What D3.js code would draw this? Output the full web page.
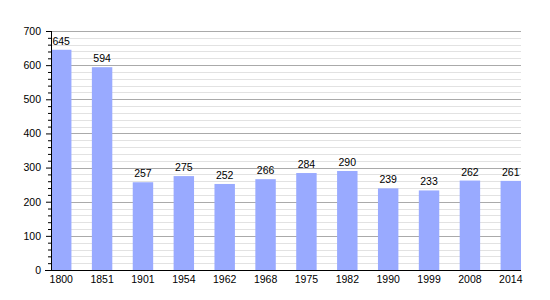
<!DOCTYPE html>
<html>
<head>
<meta charset="utf-8">
<script src="https://cdn.jsdelivr.net/npm/d3@7"></script>
<style>
  body { margin: 0; background: #fff; }
  text { font-family: "Liberation Sans", Arial, sans-serif; font-size: 10.5px; fill: #000; }
</style>
</head>
<body>
<script>
var years = ["1800", "1851", "1901", "1954", "1962", "1968", "1975", "1982", "1990", "1999", "2008", "2014"];
var population = [645, 594, 257, 275, 252, 266, 284, 290, 239, 233, 262, 261];
var yTicks = [0, 100, 200, 300, 400, 500, 600, 700];

var width = 550, height = 300;
var plot = {left: 51, right: 521, top: 31, bottom: 270};

var svg = d3.select("body").append("svg")
  .attr("width", width)
  .attr("height", height);

var x = d3.scaleBand().domain(years).range([plot.left, plot.right]).paddingInner(0.5).paddingOuter(0).align(0);
var y = d3.scaleLinear().domain([0, 700]).range([plot.bottom, plot.top]);

// minor grid every 20
var minor = d3.range(0, 701, 20).filter(function(v) { return v % 100 !== 0; });
svg.append("g").selectAll("line").data(minor).enter().append("line")
  .attr("x1", plot.left).attr("x2", plot.right)
  .attr("y1", function(d) { return Math.round(y(d)) + 0.5; })
  .attr("y2", function(d) { return Math.round(y(d)) + 0.5; })
  .attr("stroke", "#e2e2e2");

// major grid
svg.append("g").selectAll("line").data(yTicks.slice(1)).enter().append("line")
  .attr("x1", plot.left).attr("x2", plot.right)
  .attr("y1", function(d) { return Math.round(y(d)) + 0.5; })
  .attr("y2", function(d) { return Math.round(y(d)) + 0.5; })
  .attr("stroke", "#aaaaaa");

// bars
svg.append("g").selectAll("rect").data(population).enter().append("rect")
  .attr("x", function(d, i) { return x(years[i]); })
  .attr("y", function(d) { return y(d); })
  .attr("width", x.bandwidth())
  .attr("height", function(d) { return y(0) - y(d); })
  .attr("fill", "#99aaff");

// value labels
svg.append("g").selectAll("text").data(population).enter().append("text")
  .attr("x", function(d, i) { return x(years[i]) + x.bandwidth() / 2; })
  .attr("y", function(d) { return y(d) - 5; })
  .attr("text-anchor", "middle")
  .text(function(d) { return d; });

// y axis with minor ticks
var yAxis = d3.axisLeft(y).tickValues(yTicks).tickSize(5).tickPadding(5);
var gy = svg.append("g").attr("transform", "translate(" + plot.left + ",0)").call(yAxis);
gy.select(".domain").remove();
gy.selectAll("text").style("font-size", "10.5px");
svg.append("g").attr("transform", "translate(" + plot.left + ",0)")
  .call(d3.axisLeft(y).tickValues(minor).tickSize(3).tickFormat(""))
  .select(".domain").remove();
svg.append("line")
  .attr("x1", plot.left + 0.5).attr("x2", plot.left + 0.5)
  .attr("y1", plot.top).attr("y2", plot.bottom + 0.5)
  .attr("stroke", "#000");

// x axis
var xAxis = d3.axisBottom(x).tickSize(0).tickPadding(5);
var gx = svg.append("g").attr("transform", "translate(0," + (plot.bottom + 0.5) + ")").call(xAxis);
gx.select(".domain").remove();
gx.selectAll("text").style("font-size", "10.5px");
svg.append("line")
  .attr("x1", 45).attr("x2", plot.right)
  .attr("y1", plot.bottom + 0.5).attr("y2", plot.bottom + 0.5)
  .attr("stroke", "#000");
</script>
</body>
</html>
